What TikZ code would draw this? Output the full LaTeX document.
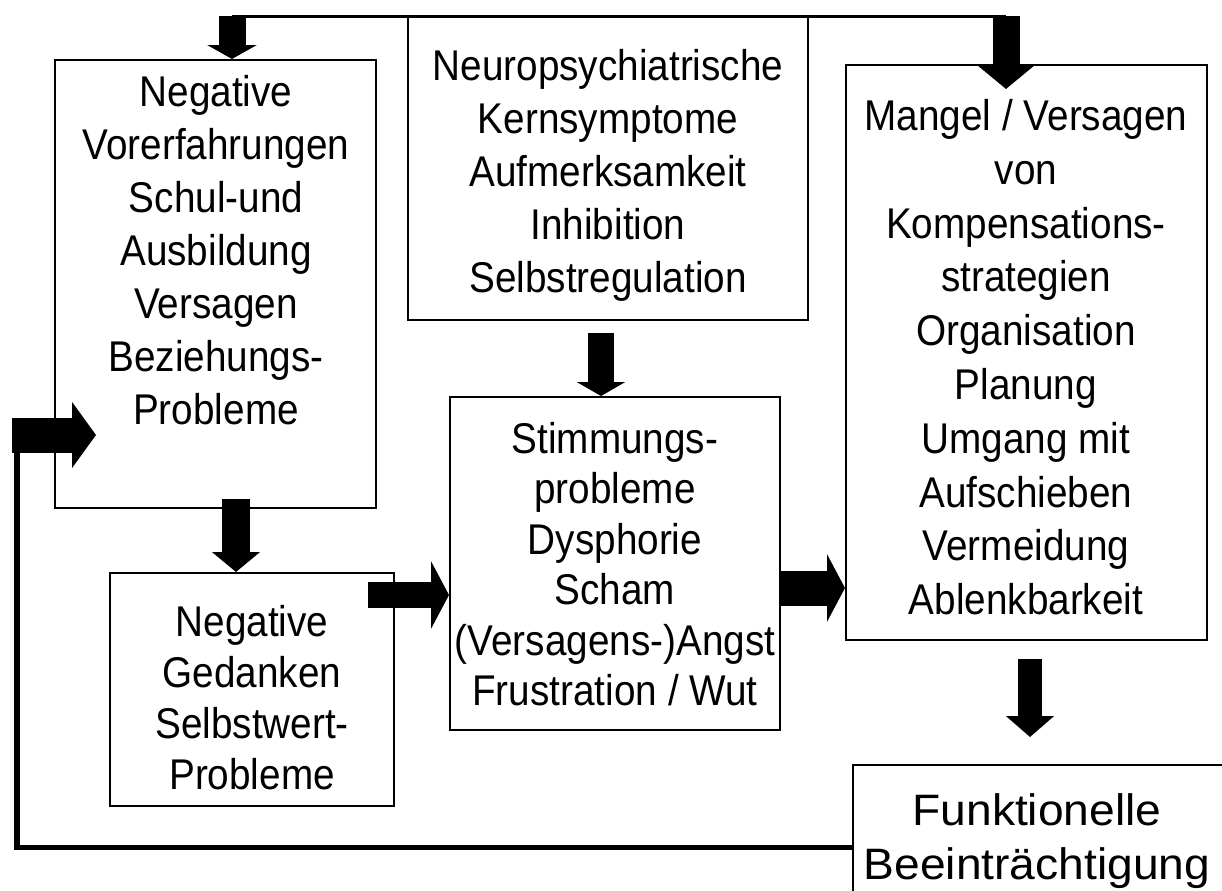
\documentclass[tikz,border=0pt]{standalone}
\usepackage{fontspec}
\setmainfont{Liberation Sans}[FakeStretch=0.9]
\newfontfamily\widefont{Liberation Sans}[FakeStretch=1.05]
\usetikzlibrary{arrows.meta}
\tikzset{
  box/.style={draw, line width=1pt, inner sep=0pt, fill=none},
  txt/.style={anchor=north, inner sep=0pt, align=center},
  thinline/.style={line width=1.5pt},
  fbline/.style={line width=2.6pt},
}
\newcommand{\bigarrow}[4]{\draw[line width=#1, -{Triangle[width=#2,length=#3]}] #4;}
\begin{document}
\begin{tikzpicture}[x=0.5pt,y=-0.5pt]
\useasboundingbox (0,0) rectangle (1222,890);
\clip (0,0) rectangle (1222,890);
\fill[white] (0,0) rectangle (1222,890);
% boxes
\node[box, minimum width=160.5pt, minimum height=224pt] (L) at (215.5,284) {};
\node[box, minimum width=200pt, minimum height=152pt] (T) at (608,168) {};
\node[box, minimum width=180.5pt, minimum height=287.5pt] (R) at (1026.5,352.5) {};
\node[box, minimum width=165pt, minimum height=166.5pt] (M) at (615,563.5) {};
\node[box, minimum width=142pt, minimum height=116.5pt] (G) at (252,689.5) {};
\node[box, minimum width=203.5pt, minimum height=82.5pt] (F) at (1056.5,847.5) {};
% texts
\node[txt, font=\fontsize{21.5}{26.5}\selectfont] (Ltxt) at (216,75)
  {Negative\\Vorerfahrungen\\Schul-und\\Ausbildung\\Versagen\\Beziehungs-\\Probleme};
\node[txt, font=\fontsize{21.5}{26.5}\selectfont] (Ttxt) at (608,49)
  {Neuropsychiatrische\\Kernsymptome\\Aufmerksamkeit\\Inhibition\\Selbstregulation};
\node[txt, font=\fontsize{21.5}{26.9}\selectfont] (Rtxt) at (1026,99)
  {Mangel / Versagen\\von\\Kompensations-\\strategien\\Organisation\\Planung\\Umgang mit\\Aufschieben\\Vermeidung\\Ablenkbarkeit};
\node[txt, font=\fontsize{21.5}{25.2}\selectfont] (Mtxt) at (615,422)
  {Stimmungs-\\probleme\\Dysphorie\\Scham\\(Versagens-)Angst\\Frustration / Wut};
\node[txt, font=\fontsize{21.5}{25.5}\selectfont] (Gtxt) at (252,605)
  {Negative\\Gedanken\\Selbstwert-\\Probleme};
\node[txt, font=\widefont\fontsize{22}{27}\selectfont] (Ftxt) at (1037,793)
  {Funktionelle\\Beeinträchtigung};
% top line
\coordinate (tl) at (232,16);
\coordinate (tr) at (1006,16);
\draw[thinline] (tl) -- (tr);
\bigarrow{13.5pt}{24.5pt}{7pt}{(tl) -- (tl |- L.north)}
\bigarrow{13.5pt}{29.5pt}{12.5pt}{(tr) -- ([yshift=-12.5pt]tr |- R.north)}
% T -> M
\bigarrow{13pt}{24pt}{7pt}{([xshift=-3.5pt,yshift=-6pt]T.south) -- ([xshift=-3.5pt]T.south |- M.north)}
% L -> G
\bigarrow{14pt}{23.5pt}{10pt}{([xshift=10.25pt,yshift=5pt]L.south) -- ([xshift=10.25pt]L.south |- G.north)}
% G -> M
\bigarrow{13pt}{33.5pt}{9pt}{([xshift=-13.5pt,yshift=47.25pt]G.east) -- ([yshift=47.25pt]G.east -| M.west)}
% M -> R
\bigarrow{17.5pt}{33.5pt}{9pt}{([yshift=-12.25pt]M.east) -- ([yshift=-12.25pt]M.east -| R.west)}
% R -> F
\bigarrow{12pt}{23.5pt}{10.5pt}{([xshift=1.75pt,yshift=-9pt]R.south) -- ([xshift=1.75pt,yshift=13.5pt]R.south |- F.north)}
% feedback
\coordinate (fb2) at (17,435);
\draw[fbline] (F.west) -| (fb2);
\bigarrow{17.5pt}{32.5pt}{12pt}{([xshift=-2.5pt]fb2) -- ([xshift=21pt]fb2 -| L.west)}
\end{tikzpicture}
\end{document}
